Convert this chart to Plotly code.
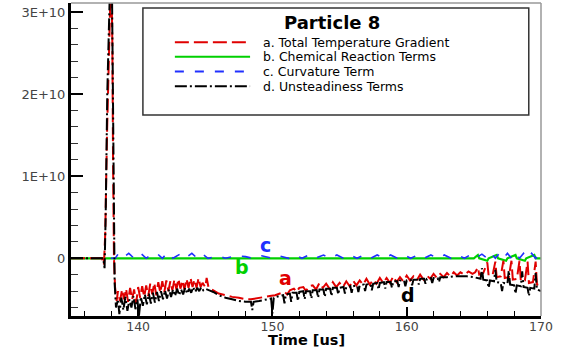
import numpy as np
import plotly.graph_objects as go

# ---------------- data (values in units of 1E+10) ----------------
t_a = [135.0, 137.3, 137.45, 137.55, 137.68, 137.75, 137.85, 137.95, 138.02, 138.08, 138.13, 138.2, 138.28, 138.4,
       138.5, 138.65, 138.8, 138.95, 139.1, 139.25, 139.4, 139.55, 139.7, 139.85, 140.0, 140.15, 140.3, 140.45,
       140.6, 140.75, 140.9, 141.05, 141.2, 141.35, 141.5, 141.65, 141.8, 141.95, 142.1, 142.25, 142.4, 142.55,
       142.7, 142.85, 143.0, 143.15, 143.3, 143.45, 143.6, 143.75, 143.9, 144.05, 144.2, 144.35, 144.5, 144.65,
       144.8, 145.0, 145.1, 145.25, 145.6, 146.0, 146.5, 147.0, 147.5, 148.0, 148.4, 148.7, 149.0, 149.4, 149.8,
       150.2, 150.6, 150.9, 151.1, 151.3, 151.6, 151.8, 152.0, 152.3, 152.5, 152.7,
       153.0, 153.25, 153.5, 153.75, 154.0, 154.25, 154.5, 154.75, 155.0, 155.25, 155.5, 155.75, 156.0, 156.25,
       156.5, 156.75, 157.0, 157.25, 157.5, 157.75, 158.0, 158.25, 158.5, 158.75, 159.0, 159.25, 159.5, 159.75,
       160.0, 160.25, 160.5, 160.75, 161.0, 161.25, 161.5, 161.75, 162.0, 162.25, 162.5, 162.75, 163.0, 163.25,
       163.5, 163.75, 164.0, 164.3, 164.6, 164.9, 165.1, 165.3, 165.4, 165.7, 166.0, 166.1, 166.4, 166.6, 166.7,
       167.0, 167.2, 167.3, 167.6, 167.8, 167.9, 168.2, 168.4, 168.5, 168.8, 169.0, 169.1, 169.4, 169.6, 169.7, 170.0]
v_a = [0.0, 0.0, -0.08, 0.3, 1.5, 2.1, 2.6, 3.3, 3.3, 2.6, 1.2, 0.0, -0.35, -0.52,
       -0.40, -0.52, -0.38, -0.50, -0.37, -0.53, -0.36, -0.50, -0.38, -0.55, -0.35, -0.48, -0.34, -0.47,
       -0.33, -0.46, -0.31, -0.44, -0.30, -0.45, -0.29, -0.42, -0.28, -0.41, -0.27, -0.40, -0.28, -0.39,
       -0.26, -0.38, -0.25, -0.37, -0.27, -0.38, -0.25, -0.36, -0.24, -0.35, -0.26, -0.36, -0.24, -0.35,
       -0.30, -0.35, -0.24, -0.36, -0.39, -0.43, -0.45, -0.47, -0.48, -0.50, -0.50, -0.49, -0.48, -0.47, -0.46,
       -0.45, -0.43, -0.41, -0.44, -0.39, -0.37, -0.41, -0.36, -0.35, -0.40, -0.34,
       -0.33, -0.38, -0.30, -0.36, -0.31, -0.37, -0.29, -0.35, -0.30, -0.35, -0.28, -0.34, -0.27, -0.33,
       -0.27, -0.32, -0.25, -0.32, -0.26, -0.31, -0.24, -0.30, -0.24, -0.30, -0.22, -0.29, -0.23, -0.28,
       -0.21, -0.27, -0.22, -0.27, -0.20, -0.26, -0.21, -0.25, -0.19, -0.24, -0.19, -0.23, -0.18, -0.22,
       -0.17, -0.21, -0.17, -0.20, -0.16, -0.19, -0.17, -0.11, -0.20, -0.18, -0.05, -0.21, -0.20, -0.04, -0.23,
       -0.22, -0.03, -0.24, -0.23, -0.03, -0.26, -0.25, -0.03, -0.28, -0.27, -0.04, -0.30, -0.29, -0.04, -0.32, -0.33]

t_d = [135.0, 137.4, 137.5, 137.58, 137.7, 137.8, 137.9, 138.05, 138.12, 138.18, 138.25, 138.35,
       138.5, 138.6, 138.75, 138.9, 139.05, 139.2, 139.35, 139.5, 139.65, 139.8, 139.95, 140.05, 140.2, 140.35,
       140.5, 140.65, 140.8, 140.95, 141.1, 141.25, 141.4, 141.55, 141.7, 141.85, 142.0, 142.15, 142.3, 142.45,
       142.6, 142.75, 142.9, 143.05, 143.2, 143.35, 143.5, 143.65, 143.8, 143.95, 144.1, 144.25, 144.4, 144.55,
       144.7, 144.85, 145.0, 145.3, 145.6, 146.0, 146.5, 147.0, 147.5, 148.0, 148.4, 148.5, 148.6, 149.0, 149.5,
       149.9, 150.0, 150.1, 150.5, 150.8, 150.9, 151.0, 151.3, 151.4, 151.5, 151.8, 151.9, 152.0, 152.3, 152.4,
       152.5, 152.8, 152.9, 153.0, 153.3, 153.4, 153.5, 153.8, 153.9, 154.0, 154.3, 154.4, 154.5, 154.8, 154.9,
       155.0, 155.3, 155.4, 155.5, 155.8, 155.9, 156.0, 156.3, 156.4, 156.5, 156.8, 156.9, 157.0, 157.3, 157.4,
       157.5, 157.8, 157.9, 158.0, 158.3, 158.4, 158.5, 158.8, 158.9, 159.0, 159.3, 159.4, 159.5, 159.8, 159.9,
       160.0, 160.3, 160.4, 160.5, 160.8, 160.9, 161.0, 161.3, 161.4, 161.5, 161.8, 161.9, 162.0, 162.3, 162.4,
       162.5, 162.8, 163.0, 163.5, 164.0, 164.5, 165.0, 165.3, 165.5, 165.6, 165.7, 166.0, 166.1, 166.2, 166.5,
       166.6, 166.7, 167.0, 167.1, 167.2, 167.5, 167.6, 167.7, 168.0, 168.1, 168.2, 168.5, 168.6, 168.7, 169.0,
       169.1, 169.2, 169.5, 169.6, 169.7, 170.0]
v_d = [0.0, 0.0, -0.12, 0.5, 2.0, 2.5, 3.3, 3.3, 2.0, 0.2, -0.3, -0.6,
       -0.50, -0.68, -0.48, -0.63, -0.47, -0.64, -0.50, -0.60, -0.46, -0.62, -0.50, -0.72, -0.47, -0.58,
       -0.44, -0.56, -0.43, -0.55, -0.42, -0.54, -0.41, -0.52, -0.40, -0.50, -0.39, -0.49, -0.38, -0.47,
       -0.38, -0.46, -0.37, -0.45, -0.38, -0.44, -0.36, -0.43, -0.37, -0.42, -0.35, -0.41, -0.36, -0.40,
       -0.35, -0.39, -0.37, -0.39, -0.41, -0.45, -0.48, -0.50, -0.52, -0.53, -0.53, -0.63, -0.53, -0.52, -0.50,
       -0.49, -0.67, -0.48, -0.46, -0.45, -0.55, -0.44, -0.43, -0.53, -0.42, -0.42, -0.52, -0.41, -0.40, -0.50,
       -0.40, -0.40, -0.49, -0.39, -0.39, -0.48, -0.38, -0.38, -0.47, -0.37, -0.37, -0.46, -0.36, -0.36, -0.44,
       -0.36, -0.35, -0.43, -0.35, -0.34, -0.42, -0.34, -0.33, -0.41, -0.33, -0.32, -0.40, -0.32, -0.31, -0.39,
       -0.31, -0.30, -0.38, -0.30, -0.29, -0.37, -0.29, -0.29, -0.36, -0.28, -0.28, -0.35, -0.27, -0.27, -0.34,
       -0.27, -0.26, -0.33, -0.26, -0.26, -0.32, -0.25, -0.25, -0.31, -0.25, -0.24, -0.30, -0.24, -0.24, -0.29,
       -0.23, -0.23, -0.23, -0.22, -0.22, -0.22, -0.23, -0.24, -0.25, -0.12, -0.26, -0.27, -0.36, -0.27, -0.28,
       -0.14, -0.29, -0.30, -0.40, -0.30, -0.31, -0.15, -0.32, -0.33, -0.43, -0.33, -0.34, -0.16, -0.35, -0.36,
       -0.46, -0.36, -0.37, -0.18, -0.38, -0.40]

t_c = [135.0, 138.3, 138.5, 138.8, 139.3, 139.7, 140.2, 140.6, 141.0, 141.4, 141.8, 142.2, 142.6, 143.1, 143.5,
       144.0, 144.4, 144.8, 145.2, 146.0, 146.5, 147.3, 148.0, 148.5, 149.2, 150.0, 150.5, 151.2, 151.7, 152.2,
       152.7, 153.2, 153.8, 154.3, 154.8, 155.3, 155.8, 156.3, 156.8, 157.3, 157.8, 158.3, 158.8, 159.3, 159.8,
       160.3, 160.8, 161.3, 161.8, 162.3, 162.8, 163.3, 163.8, 164.3, 164.8, 165.2, 165.6, 166.0, 166.3, 166.6,
       166.9, 167.2, 167.5, 167.8, 168.1, 168.4, 168.7, 169.0, 169.3, 169.6, 170.0]
v_c = [0.0, 0.0, 0.05, 0.0, 0.06, 0.0, 0.06, 0.0, 0.05, 0.06, 0.0, 0.07, 0.0, 0.05, 0.0,
       0.06, 0.0, 0.05, 0.0, 0.03, 0.0, 0.03, 0.02, 0.0, 0.03, 0.0, 0.03, 0.0, 0.04, 0.0,
       0.04, 0.0, 0.04, 0.0, 0.04, 0.0, 0.04, 0.0, 0.04, 0.0, 0.04, 0.0, 0.04, 0.0, 0.04,
       0.0, 0.04, 0.0, 0.04, 0.0, 0.04, 0.0, 0.04, 0.0, 0.05, 0.01, 0.05, 0.0, 0.06, 0.0,
       0.06, 0.0, 0.06, 0.0, 0.06, 0.0, 0.06, 0.0, 0.06, 0.0, 0.05]

t_b = [135.0, 165.0, 165.3, 165.4, 166.0, 166.1, 166.7, 166.8, 167.4, 167.5, 168.1, 168.2, 168.8, 168.9, 169.5, 169.6, 170.0]
v_b = [0.0, 0.0, 0.04, 0.0, -0.03, 0.0, 0.04, 0.0, -0.03, 0.0, 0.04, 0.0, -0.03, 0.0, 0.04, 0.0, 0.0]

series_names = ["a. Total Temperature Gradient", "b. Chemical Reaction Terms",
                "c. Curvature Term", "d. Unsteadiness Terms"]
series_colors = ["#e00000", "#00d000", "#2030ff", "#000000"]
series_dash = ["14px,5px", "solid", "9px,11px", "12px,3px,2px,3px"]

y_tickvals = [0, 1, 2, 3]
y_ticktext = ["0", "1E+10", "2E+10", "3E+10"]
x_tickvals = [140, 150, 160, 170]
x_title = "Time [us]"
panel_title = "Particle 8"

SCALE = 1e10
fig = go.Figure()

order = [(1, t_b, v_b, 2.2), (2, t_c, v_c, 1.6), (0, t_a, v_a, 2.0), (3, t_d, v_d, 2.0)]
for idx, tt, vv, w in order:
    fig.add_trace(go.Scatter(
        x=tt, y=np.array(vv) * SCALE, mode="lines", name=series_names[idx],
        line=dict(color=series_colors[idx], width=w, dash=series_dash[idx]),
        showlegend=False, hoverinfo="skip"))

font_fam = "DejaVu Sans, Liberation Sans, Arial, sans-serif"

fig.update_layout(
    width=561, height=349,
    margin=dict(l=71, r=20, t=3, b=33),
    plot_bgcolor="white", paper_bgcolor="white",
    font=dict(family=font_fam, size=13, color="#333"),
    xaxis=dict(range=[135, 170], tickvals=x_tickvals, ticks="inside", ticklen=9, tickwidth=1.5,
               tickcolor="black", showgrid=False, zeroline=False, showline=True, linecolor="black",
               linewidth=2.5, minor=dict(ticks="inside", ticklen=5, dtick=2, tickcolor="black", tickwidth=1),
               tickfont=dict(size=12.5, color="#444"), ticklabelstandoff=-3),
    yaxis=dict(range=[-0.703 * SCALE, 3.11 * SCALE], tickvals=[v * SCALE for v in y_tickvals],
               ticktext=y_ticktext, ticks="inside", ticklen=12, tickwidth=2, tickcolor="black",
               showgrid=False, zeroline=False, showline=True, linecolor="black", linewidth=3,
               minor=dict(ticks="inside", ticklen=7, dtick=0.2 * SCALE, tickcolor="#333", tickwidth=1),
               tickfont=dict(size=13, color="#444")),
)

# x-axis title placed below tick labels
fig.add_annotation(xref="paper", yref="paper", x=0.5, y=0, yshift=-24, text="<b>" + x_title + "</b>",
                   showarrow=False, xanchor="center", yanchor="middle", borderpad=0,
                   font=dict(size=14.5, color="black"))

# frame top/right in gray
fig.add_shape(type="line", xref="paper", yref="paper", x0=0, x1=1, y0=1, y1=1,
              line=dict(color="#999", width=1.5))
fig.add_shape(type="line", xref="paper", yref="paper", x0=1, x1=1, y0=0, y1=1,
              line=dict(color="#999", width=1.5))

# legend box
fig.add_shape(type="rect", xref="paper", yref="paper", x0=0.153, x1=0.974, y0=0.642, y1=0.984,
              line=dict(color="#333", width=1.5), fillcolor="white", layer="above")
fig.add_annotation(xref="paper", yref="paper", x=0.555, y=0.939, text="<b>" + panel_title + "</b>",
                   showarrow=False, font=dict(size=18, color="black"), xanchor="center", yanchor="middle")
leg_y = [0.875, 0.828, 0.781, 0.734]
for i, ly in enumerate(leg_y):
    fig.add_shape(type="line", xref="paper", yref="paper", x0=0.221, x1=0.381, y0=ly, y1=ly,
                  line=dict(color=series_colors[i], width=2, dash=series_dash[i]), layer="above")
    fig.add_annotation(xref="paper", yref="paper", x=0.406, y=ly, text=series_names[i], showarrow=False,
                       xanchor="left", yanchor="middle", font=dict(size=12.5, color="black"),
                       borderpad=0)

# curve labels
labels = [("c", 149.45, 0.16, 2), ("b", 147.7, -0.11, 1), ("a", 151.0, -0.24, 0), ("d", 160.1, -0.45, 3)]
for txt, lx, ly, ci in labels:
    fig.add_annotation(x=lx, y=ly * SCALE, text="<b>" + txt + "</b>", showarrow=False,
                       font=dict(size=19, color=series_colors[ci]), xanchor="center", yanchor="middle")

fig.write_html("out.html")
